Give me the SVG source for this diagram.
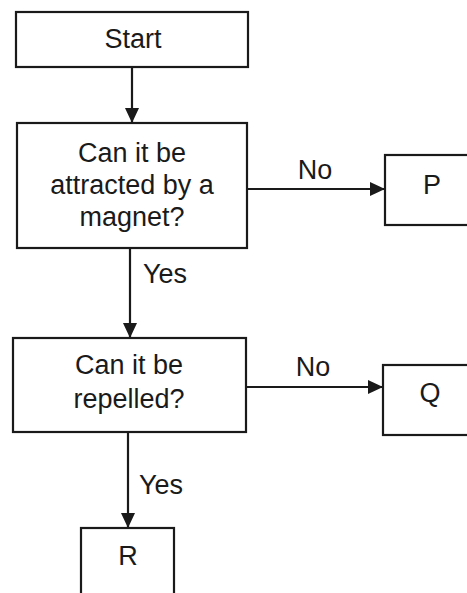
<svg xmlns="http://www.w3.org/2000/svg" width="467" height="593" viewBox="0 0 467 593">
<style>
.box{fill:#fff;stroke:#1a1a1a;stroke-width:2.2}
.t{font-family:"Liberation Sans",Arial,sans-serif;font-size:27px;fill:#1a1a1a;text-anchor:middle}
.c{stroke:#1a1a1a;stroke-width:2.2;fill:none}
</style>
<defs>
<marker id="ah" markerUnits="userSpaceOnUse" markerWidth="16" markerHeight="16" refX="15" refY="7" orient="auto">
<path d="M0,0 L15,7 L0,14 z" fill="#1a1a1a"/>
</marker>
</defs>
<rect width="467" height="593" fill="#fff"/>
<g id="connectors">
<line class="c" x1="132" y1="67" x2="132" y2="123" marker-end="url(#ah)"/>
<line class="c" x1="130" y1="248" x2="130" y2="338" marker-end="url(#ah)"/>
<line class="c" x1="247" y1="189" x2="385" y2="189" marker-end="url(#ah)"/>
<line class="c" x1="246" y1="387" x2="383" y2="387" marker-end="url(#ah)"/>
<line class="c" x1="128" y1="432" x2="128" y2="528" marker-end="url(#ah)"/>
<text class="t" x="315" y="179">No</text>
<text class="t" x="313" y="376">No</text>
<text class="t" x="143" y="283" style="text-anchor:start">Yes</text>
<text class="t" x="139" y="494" style="text-anchor:start">Yes</text>
</g>
<g id="start">
<rect class="box" x="16" y="12" width="232" height="55"/>
<text class="t" x="133" y="48">Start</text>
</g>
<g id="q1">
<rect class="box" x="17" y="123" width="230" height="125"/>
<text class="t" x="132" y="162">Can it be</text>
<text class="t" x="132" y="194">attracted by a</text>
<text class="t" x="132" y="226">magnet?</text>
</g>
<g id="p">
<rect class="box" x="385" y="155" width="100" height="70"/>
<text class="t" x="432" y="194">P</text>
</g>
<g id="q2">
<rect class="box" x="13" y="338" width="233" height="94"/>
<text class="t" x="129" y="374">Can it be</text>
<text class="t" x="129" y="408">repelled?</text>
</g>
<g id="q">
<rect class="box" x="383" y="365" width="100" height="70"/>
<text class="t" x="430" y="402">Q</text>
</g>
<g id="r">
<rect class="box" x="81" y="528" width="93" height="80"/>
<text class="t" x="128" y="565">R</text>
</g>
</svg>
